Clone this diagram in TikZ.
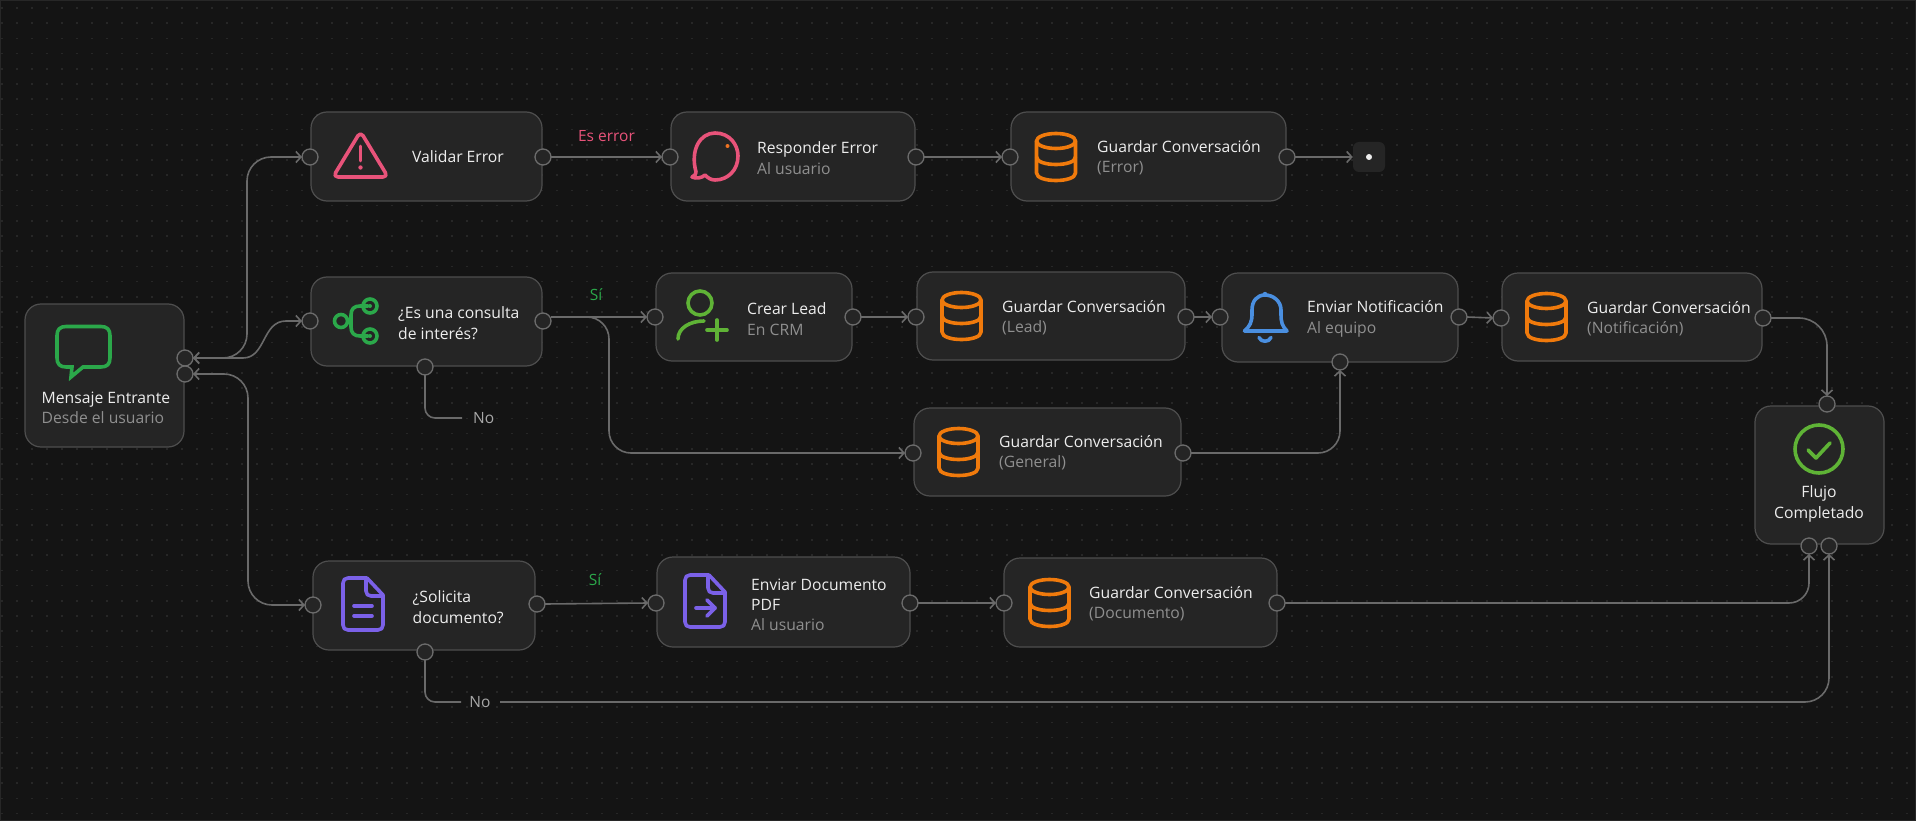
\documentclass[tikz,border=0pt]{standalone}
\usepackage{fontspec}
\setmainfont{Open Sans}
\usetikzlibrary{arrows.meta}
\definecolor{bg}{HTML}{141414}
\definecolor{griddot}{HTML}{272727}
\definecolor{cardfill}{HTML}{252525}
\definecolor{cardline}{HTML}{4E4E4E}
\definecolor{portline}{HTML}{6C6C6C}
\definecolor{wire}{HTML}{6A6A6A}
\definecolor{ttl}{HTML}{EDEDED}
\definecolor{subt}{HTML}{8F8F8F}
\definecolor{nolabel}{HTML}{A8A8A8}
\definecolor{cgreen}{HTML}{2BA84A}
\definecolor{lgreen}{HTML}{5FB336}
\definecolor{cpink}{HTML}{E8537A}
\definecolor{corange}{HTML}{F07A0C}
\definecolor{cblue}{HTML}{4A8FE0}
\definecolor{cpurple}{HTML}{7B61E8}
\tikzset{
  card/.style={draw=cardline,fill=cardfill,line width=1.2pt,rounded corners=16pt,inner sep=0pt,outer sep=0pt},
  port/.style={circle,draw=portline,fill=cardfill,line width=1.3pt,minimum size=16pt,inner sep=0pt,outer sep=0pt},
  wired/.style={draw=wire,line width=1.6pt,rounded corners=#1},
  wired/.default=22pt,
  tip/.style={-{Straight Barb[length=5pt,width=11pt]}},
  tips/.style={{Straight Barb[length=5pt,width=11pt]}-{Straight Barb[length=5pt,width=11pt]}},
  tiponly/.style={{Straight Barb[length=5pt,width=11pt]}-},
  label/.style={font=\fontsize{15.7}{20.3}\selectfont,text=ttl,anchor=west,align=left,inner sep=0pt},
  edgelabel/.style={font=\fontsize{15.5}{18}\selectfont,inner sep=0pt},
  icon/.style={line width=3.6pt,line cap=round,line join=round},
  dbicon/.pic={
    \draw[icon,corange] (0,-16) ellipse [x radius=19.5,y radius=7.5];
    \draw[icon,corange] (-19.5,-16) -- (-19.5,16) .. controls (-19.5,26) and (19.5,26) .. (19.5,16) -- (19.5,-16);
    \draw[icon,corange] (-19.5,0) .. controls (-19.5,10) and (19.5,10) .. (19.5,0);
  },
  docshape/.pic={
    \draw[icon,cpurple] (24,0) -- (5,0) .. controls (2,0) and (0,2) .. (0,5) -- (0,47) .. controls (0,50) and (2,52) .. (5,52) -- (35,52) .. controls (38,52) and (40,50) .. (40,47) -- (40,17) -- (24,0);
    \draw[icon,cpurple] (23,1) -- (23,13) .. controls (23,16) and (25,18) .. (28,18) -- (40,18);
  }
}
\newcommand{\cardat}[5]{\node[card,minimum width={(#4-#2)*1pt},minimum height={(#5-#3)*1pt}] (#1) at ({(#2+#4)/2},{(#3+#5)/2}) {};}
\newcommand{\portat}[3]{\node[port] (#1) at (#2,#3) {};}
\newcommand{\sub}[1]{{\color{subt}#1}}
\begin{document}
\begin{tikzpicture}[x=1pt,y=-1pt]
\useasboundingbox (0,0) rectangle (1916,821);
\fill[bg] (0,0) rectangle (1916,821);
\draw[griddot,line width=1pt] (0.5,0.5) rectangle (1915.5,820.5);
\foreach \i in {0,...,127}{\foreach \j in {0,...,54}{
  \fill[griddot] ({2+15*\i-0.8},{8+15.2*\j-0.8}) rectangle +(1.6,1.6);
}}
% cards
\cardat{msg}{25}{304}{184}{447}
\cardat{val}{311}{112}{542}{201}
\cardat{resp}{671}{112}{915}{201}
\cardat{gerr}{1011}{112}{1286}{201}
\node[fill=cardfill,rounded corners=6pt,minimum width=32pt,minimum height=30pt,inner sep=0pt] (fin) at (1369,157) {};
\cardat{cons}{311}{277}{542}{366}
\cardat{lead}{656}{273}{852}{361}
\cardat{glead}{917}{272}{1185}{360}
\cardat{noti}{1222}{273}{1458}{362}
\cardat{gnot}{1502}{273}{1762}{361}
\cardat{ggen}{914}{408}{1181}{496}
\cardat{soli}{313}{561}{535}{650}
\cardat{envd}{657}{557}{910}{647}
\cardat{gdoc}{1004}{558}{1277}{647}
\cardat{flujo}{1755}{406}{1884}{544}
% ports
\portat{pM1}{185}{358}
\portat{pM2}{185}{374}
\portat{pV1}{310}{157}
\portat{pV2}{543}{157}
\portat{pR1}{670}{157}
\portat{pR2}{916}{157}
\portat{pE1}{1010}{157}
\portat{pE2}{1287}{157}
\portat{pC1}{310}{321}
\portat{pC2}{543}{321}
\portat{pC3}{425}{367}
\portat{pL1}{655}{317}
\portat{pL2}{853}{317}
\portat{pG1}{916}{317}
\portat{pG2}{1186}{317}
\portat{pN1}{1220}{317}
\portat{pN2}{1459}{317}
\portat{pN3}{1340}{362}
\portat{pT1}{1501}{318}
\portat{pT2}{1763}{318}
\portat{pH1}{913}{453}
\portat{pH2}{1183}{453}
\portat{pS1}{313}{605}
\portat{pS2}{537}{604}
\portat{pS3}{425}{652}
\portat{pD1}{656}{603}
\portat{pD2}{910}{603}
\portat{pK1}{1004}{603}
\portat{pK2}{1277}{603}
\portat{pF1}{1827}{404}
\portat{pF2}{1809}{546}
\portat{pF3}{1829}{546}
% free coordinates
\coordinate (vA) at (247,157);
\coordinate (sA) at (243,358);
\coordinate (sB) at (286,321);
\coordinate (vB) at (248,605);
\coordinate (br) at (609,453);
\coordinate (noC) at (462,418);
\coordinate (noS) at (461,702);
\coordinate (noR) at (500,702);
% connectors
\draw[wired=24pt,tips] (pM1.east) -| (vA) -- (pV1.west);
\draw[wired=0pt,tiponly] (pM1.east) -- (sA) .. controls (266,358) and (262,321) .. (sB);
\draw[wired=0pt,tip] (sB) -- (pC1.west);
\draw[wired=24pt,tips] (pM2.east) -| (vB) -- (pS1.west);
\draw[wired,tip] (pV2.east) -- node[midway,above=15pt,edgelabel,text=cpink] (lblErr) {Es error} (pR1.west);
\draw[wired,tip] (pR2.east) -- (pE1.west);
\draw[wired,tip] (pE2.east) -- (fin.west);
\node[circle,fill=ttl,minimum size=6pt,inner sep=0pt] (findot) at (fin.center) {};
\draw[wired,tip] (pC2.east |- pL1.west) -- (pL1.west);
\draw[wired,tip] (pC2.east |- pL1.west) -| (br) -- (pH1.west);
\draw[wired=10pt] (pC3.south) |- (noC);
\node[edgelabel,text=nolabel,anchor=west] (lblNo1) at (473,418) {No};
\node[edgelabel,text=cgreen] (lblSi1) at (596,295) {Sí};
\draw[wired,tip] (pL2.east) -- (pG1.west);
\draw[wired,tip] (pG2.east) -- (pN1.west);
\draw[wired,tip] (pN2.east) -- (pT1.west);
\draw[wired=28pt,tip] (pT2.east) -| (pF1.north);
\draw[wired,tip] (pH2.east) -| (pN3.south);
\draw[wired,tip] (pS2.east) -- (pD1.west);
\node[edgelabel,text=cgreen] (lblSi2) at (595,580) {Sí};
\draw[wired,tip] (pD2.east) -- (pK1.west);
\draw[wired=20pt,tip] (pK2.east) -| (pF2.south);
\draw[wired=10pt] (pS3.south) |- (noS);
\node[edgelabel,text=nolabel] (lblNo2) at (480,702) {No};
\draw[wired=24pt,tip] (noR) -| (pF3.south);
% texts
\node[label] (tMsg) at (41.5,407.5) {Mensaje Entrante\\\sub{Desde el usuario}};
\node[label] (tVal) at (412,157) {Validar Error};
\node[label] (tResp) at (757,158) {Responder Error\\\sub{Al usuario}};
\node[label] (tGerr) at (1097,158) {Guardar Conversación\\\sub{(Error)}};
\node[label] (tCons) at (398,323) {¿Es una consulta\\de interés?};
\node[label] (tLead) at (747,319) {Crear Lead\\\sub{En CRM}};
\node[label] (tGlead) at (1002,318) {Guardar Conversación\\\sub{(Lead)}};
\node[label] (tNoti) at (1307,319) {Enviar Notificación\\\sub{Al equipo}};
\node[label] (tGnot) at (1587,319) {Guardar Conversación\\\sub{(Notificación)}};
\node[label] (tGgen) at (999,453) {Guardar Conversación\\\sub{(General)}};
\node[label] (tSoli) at (412.5,607) {¿Solicita\\documento?};
\node[label] (tEnvd) at (751,605) {Enviar Documento\\PDF\\\sub{Al usuario}};
\node[label] (tGdoc) at (1089,603.5) {Guardar Conversación\\\sub{(Documento)}};
\node[label,anchor=center,align=center] (tFlujo) at (1819,504) {Flujo\\Completado};
% icons
\draw[icon,cgreen,line join=miter] (66,326.5) -- (101,326.5) .. controls (107,326.5) and (110,329.5) .. (110,335.5) -- (110,358) .. controls (110,364) and (107,367) .. (101,367) -- (83,367) -- (71,377) -- (72,367) -- (66,367) .. controls (60,367) and (57,364) .. (57,358) -- (57,335.5) .. controls (57,329.5) and (60,326.5) .. (66,326.5) -- cycle;
\draw[icon,cpink,rounded corners=5pt] (360.5,131.5) -- (388,177) -- (333,177) -- cycle;
\draw[icon,cpink,line width=2.6pt] (360.5,146) -- (360.5,161);
\fill[cpink] (360.5,167.5) circle[radius=2.2];
\draw[icon,cpink] (696,172) .. controls (690,150) and (700,133) .. (715,133) .. controls (730,133) and (738,145) .. (738,156) .. controls (738,170) and (728,180) .. (715,180) .. controls (711,180) and (708,178) .. (705,175) .. controls (702,178) and (696,179) .. (692,177) .. controls (695,176) and (696,174) .. (696,172) -- cycle;
\fill[corange!80!cpink] (727.5,146) circle[radius=2];
\pic at (1056,157) {dbicon};
\draw[icon,cgreen] (341,321) circle[radius=6.5];
\draw[icon,cgreen] (370,306) circle[radius=7];
\draw[icon,cgreen] (370,336) circle[radius=7];
\draw[icon,cgreen] (368,306) -- (360,306) .. controls (354,306) and (351,309) .. (351,315) -- (351,327) .. controls (351,333) and (354,336) .. (360,336) -- (368,336);
\fill[cgreen] (370,306) circle[radius=2];
\fill[cgreen] (370,336) circle[radius=2];
\draw[icon,lgreen] (700,303) circle[radius=12];
\draw[icon,lgreen] (678,339) .. controls (678,328) and (690,321) .. (704,321);
\draw[icon,lgreen] (707,330) -- (727,330);
\draw[icon,lgreen] (717,320) -- (717,340);
\pic at (961.5,316) {dbicon};
\draw[icon,cblue] (1244.5,331) .. controls (1250,326) and (1252,322) .. (1252,314) -- (1252,310) .. controls (1252,301) and (1257,295) .. (1265,295) .. controls (1273,295) and (1281,301) .. (1281,310) -- (1281,314) .. controls (1281,322) and (1282,326) .. (1287,331) -- cycle;
\fill[cblue] (1265,294) circle[radius=2.2];
\draw[icon,cblue] (1259,337.5) .. controls (1261,342.5) and (1269,342.5) .. (1271,337.5);
\pic at (1546.5,317) {dbicon};
\pic at (958.5,452) {dbicon};
\pic at (343,578) {docshape};
\draw[icon,cpurple] (354,606) -- (372,606);
\draw[icon,cpurple] (354,616) -- (372,616);
\pic at (685,575) {docshape};
\draw[icon,cpurple] (696,608) -- (715,608);
\draw[icon,cpurple] (707,600) -- (715,608) -- (707,616);
\pic at (1049.5,603) {dbicon};
\draw[icon,lgreen] (1819,449) circle[radius=24];
\draw[icon,lgreen] (1808,450) -- (1816,458) -- (1830,443);
\end{tikzpicture}
\end{document}
